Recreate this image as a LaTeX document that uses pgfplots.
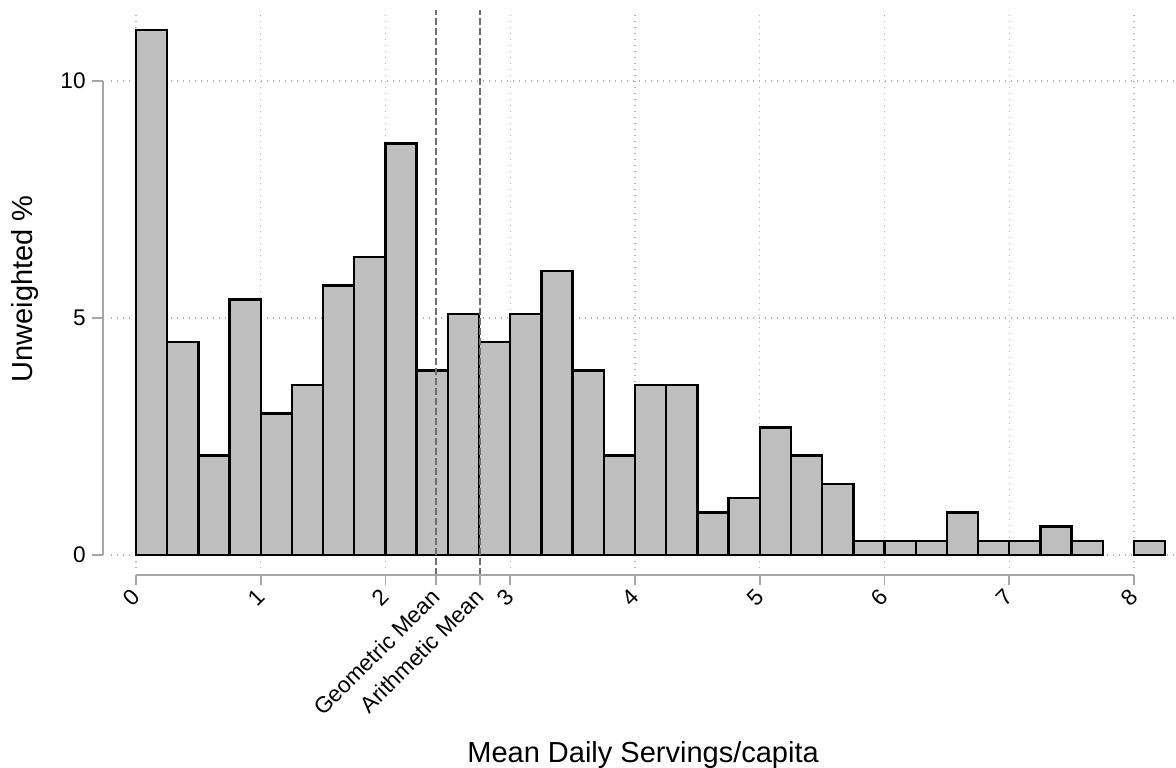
\documentclass[border=0pt]{standalone}
\usepackage{pgfplots}
\pgfplotsset{compat=1.18}
\usepackage{fontspec}
\setmainfont{Liberation Sans}
\definecolor{barfill}{HTML}{BFBFBF}
\definecolor{axgray}{HTML}{A6A6A6}
\definecolor{gridgray}{HTML}{B0B0B0}
\definecolor{meangray}{HTML}{6E6E6E}
\begin{document}
\begin{tikzpicture}
\useasboundingbox (0,0) rectangle (588pt,383.5pt);
\begin{axis}[
 at={(55.5pt,99.6pt)}, anchor=south west,
 scale only axis, width=532.1pt, height=278.9pt,
 xmin=-0.2, xmax=8.33, ymin=-0.27, ymax=11.5,
 axis x line*=bottom, axis y line*=left,
 axis line style={draw=none},
 clip=false,
 xtick={0,1,2,3,4,5,6,7,8}, ytick={0,5,10},
 extra x ticks={2.405,2.757},
 extra x tick labels={Geometric Mean,Arithmetic Mean},
 extra x tick style={grid=none},
 major tick length=0pt,
 grid=major,
 major grid style={gridgray, line width=0.6pt, dash pattern=on 0.6pt off 2.4pt},
 /pgf/number format/assume math mode=true,
 ticklabel style={font=\fontsize{11.3}{13}\selectfont, inner sep=0pt},
 xticklabel style={rotate=45, anchor=east},
 yticklabel style={anchor=east},
 xticklabel shift=12.5pt, yticklabel shift=12.5pt,
 xlabel={Mean Daily Servings/capita},
 ylabel={Unweighted \%},
 label style={font=\fontsize{14.5}{17}\selectfont, inner sep=0pt},
 xlabel style={at={(axis description cs:0.5,-0.3482)}, anchor=base},
 ylabel style={at={(axis description cs:-0.0733,0.5)}, anchor=base},
]
\addplot[ybar, bar width=0.25, bar shift=0pt, fill=barfill, draw=black, line width=1.2pt] coordinates {
 (0.125,11.08) (0.375,4.49) (0.625,2.10) (0.875,5.39)
 (1.125,2.99) (1.375,3.59) (1.625,5.69) (1.875,6.29)
 (2.125,8.68) (2.375,3.89) (2.625,5.09) (2.875,4.49)
 (3.125,5.09) (3.375,5.99) (3.625,3.89) (3.875,2.10)
 (4.125,3.59) (4.375,3.59) (4.625,0.90) (4.875,1.20)
 (5.125,2.69) (5.375,2.10) (5.625,1.50) (5.875,0.30)
 (6.125,0.30) (6.375,0.30) (6.625,0.90) (6.875,0.30)
 (7.125,0.30) (7.375,0.60) (7.625,0.30) (8.125,0.30)
};
\addplot[meangray, line width=0.6pt, dash pattern=on 3.5pt off 1.5pt] coordinates {(2.405,-0.422) (2.405,11.5)};
\addplot[meangray, line width=0.6pt, dash pattern=on 3.5pt off 1.5pt] coordinates {(2.757,-0.422) (2.757,11.5)};
% axis lines and ticks
\draw[axgray, line width=0.9pt] (axis cs:-0.2645,0) -- (axis cs:-0.2645,10);
\draw[axgray, line width=0.9pt] (axis cs:-0.3527,0) -- (axis cs:-0.2645,0);
\draw[axgray, line width=0.9pt] (axis cs:-0.3527,5) -- (axis cs:-0.2645,5);
\draw[axgray, line width=0.9pt] (axis cs:-0.3527,10) -- (axis cs:-0.2645,10);
\draw[axgray, line width=0.9pt] (axis cs:0,-0.422) -- (axis cs:8,-0.422);
\draw[axgray, line width=0.9pt] (axis cs:0,-0.422) -- (axis cs:0,-0.633);
\draw[axgray, line width=0.9pt] (axis cs:1,-0.422) -- (axis cs:1,-0.633);
\draw[axgray, line width=0.9pt] (axis cs:2,-0.422) -- (axis cs:2,-0.633);
\draw[axgray, line width=0.9pt] (axis cs:2.405,-0.422) -- (axis cs:2.405,-0.633);
\draw[axgray, line width=0.9pt] (axis cs:2.757,-0.422) -- (axis cs:2.757,-0.633);
\draw[axgray, line width=0.9pt] (axis cs:3,-0.422) -- (axis cs:3,-0.633);
\draw[axgray, line width=0.9pt] (axis cs:4,-0.422) -- (axis cs:4,-0.633);
\draw[axgray, line width=0.9pt] (axis cs:5,-0.422) -- (axis cs:5,-0.633);
\draw[axgray, line width=0.9pt] (axis cs:6,-0.422) -- (axis cs:6,-0.633);
\draw[axgray, line width=0.9pt] (axis cs:7,-0.422) -- (axis cs:7,-0.633);
\draw[axgray, line width=0.9pt] (axis cs:8,-0.422) -- (axis cs:8,-0.633);
\end{axis}
\end{tikzpicture}
\end{document}
